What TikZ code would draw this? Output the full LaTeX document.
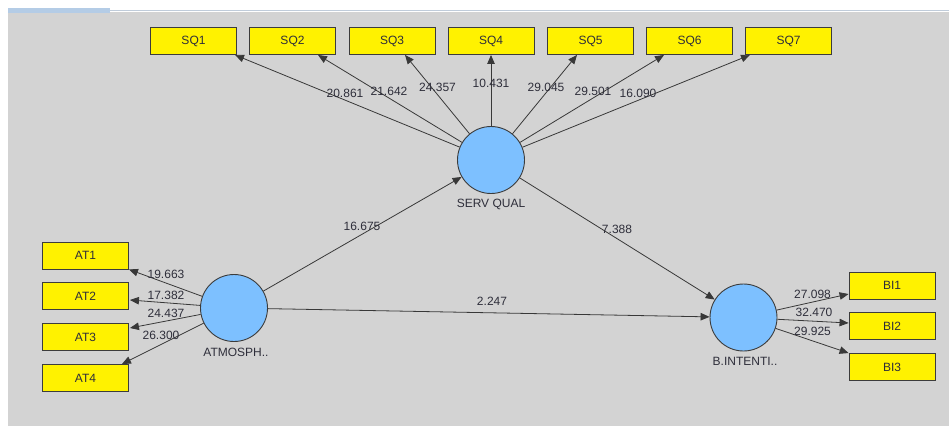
\documentclass[tikz,border=0pt]{standalone}
\usepackage{fontspec}
\setmainfont{Liberation Sans}
\usetikzlibrary{arrows.meta,calc}
\definecolor{bgc}{HTML}{D3D3D3}
\definecolor{stripblue}{HTML}{B4CCE6}
\definecolor{topline}{HTML}{C0CCDA}
\definecolor{boxline}{HTML}{3C3C3C}
\definecolor{latblue}{HTML}{7DC0FF}
\definecolor{linec}{HTML}{383838}
\definecolor{txt}{HTML}{2E2E3A}
\begin{document}
\begin{tikzpicture}[x=1pt,y=-1pt,
  font=\fontsize{12}{14}\selectfont,
  ind/.style={draw=boxline, fill=yellow, line width=0.9pt, minimum width=86pt, minimum height=27pt, inner sep=0pt, text=txt},
  lat/.style={circle, draw=boxline, fill=latblue, line width=0.9pt, minimum size=67pt, inner sep=0pt},
  arr/.style={draw=linec, line width=0.8pt, -{Triangle[length=9pt,width=7.5pt]}},
  val/.style={text=txt, inner sep=0pt},
]
\useasboundingbox (0,0) rectangle (949,426);
\fill[white] (0,0) rectangle (949,426);
\fill[bgc] (8,12) rectangle (949,426);
\fill[stripblue] (8,8) rectangle (110,13);
\draw[topline, line width=1pt] (110,10.5) -- (949,10.5);

% indicator boxes
\node[ind] (sq1) at (193.5,41) {SQ1};
\node[ind] (sq2) at (292.5,41) {SQ2};
\node[ind] (sq3) at (392,41) {SQ3};
\node[ind] (sq4) at (491,41) {SQ4};
\node[ind] (sq5) at (590.5,41) {SQ5};
\node[ind] (sq6) at (689.5,41) {SQ6};
\node[ind] (sq7) at (788.5,41) {SQ7};

\node[ind] (at1) at (85.5,255.5) {AT1};
\node[ind] (at2) at (85.5,296) {AT2};
\node[ind] (at3) at (85.5,337) {AT3};
\node[ind] (at4) at (85.5,378) {AT4};

\node[ind] (bi1) at (892,285.5) {BI1};
\node[ind] (bi2) at (892,326) {BI2};
\node[ind] (bi3) at (892,367) {BI3};

% latent variables
\node[lat] (sv) at (491,160) {};
\node[lat] (atm) at (234,308) {};
\node[lat] (bint) at (743.5,317.5) {};
\node[val] (svlab) at (491,204) {SERV QUAL};
\node[val] (atmlab) at (236,352) {ATMOSPH..};
\node[val] (bintlab) at (745,361) {B.INTENTI..};

% outer model arrows
\draw[arr] (sv) -- ($(sq1.south)+(41.5,0)$);
\draw[arr] (sv) -- ($(sq2.south)+(25.5,0)$);
\draw[arr] (sv) -- ($(sq3.south)+(13,0)$);
\draw[arr] (sv) -- (sq4.south);
\draw[arr] (sv) -- ($(sq5.south)+(-13.5,0)$);
\draw[arr] (sv) -- ($(sq6.south)+(-25.5,0)$);
\draw[arr] (sv) -- ($(sq7.south)+(-38.5,0)$);

\draw[arr] (atm) -- (at1.south east);
\draw[arr] (atm) -- ($(at2.east)+(1,4)$);
\draw[arr] (atm) -- ($(at3.east)+(1,-9)$);
\draw[arr] (atm) -- ($(at4.north east)+(-7,0)$);

\draw[arr] (bint) -- ($(bi1.west)+(0,8.5)$);
\draw[arr] (bint) -- ($(bi2.west)+(0,-3)$);
\draw[arr] (bint) -- (bi3.north west);

% inner model arrows
\draw[arr] (atm) -- (sv);
\draw[arr] (sv) -- (bint);
\draw[arr] (atm) -- (bint);

% values
\node[val] (v1) at (345,93) {20.861};
\node[val] (v2) at (389,91) {21.642};
\node[val] (v3) at (437.5,87) {24.357};
\node[val] (v4) at (491,83) {10.431};
\node[val] (v5) at (546,87) {29.045};
\node[val] (v6) at (593,91) {29.501};
\node[val] (v7) at (638,93) {16.090};

\node[val] (a1) at (166,274.5) {19.663};
\node[val] (a2) at (166,295) {17.382};
\node[val] (a3) at (166,313) {24.437};
\node[val] (a4) at (161,335) {26.300};

\node[val] (b1) at (812.5,294) {27.098};
\node[val] (b2) at (814,312.5) {32.470};
\node[val] (b3) at (812.5,331) {29.925};

\node[val] (p1) at (362,226) {16.675};
\node[val] (p2) at (617,229.5) {7.388};
\node[val] (p3) at (492,301) {2.247};
\end{tikzpicture}
\end{document}
